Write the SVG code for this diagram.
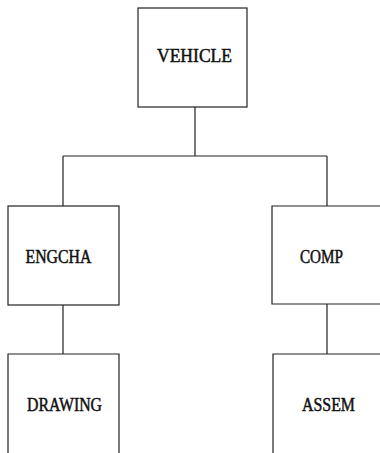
<svg xmlns="http://www.w3.org/2000/svg" width="380" height="453" viewBox="0 0 380 453">
<style>
.box{fill:none;stroke:#222;stroke-width:1.2}
.ln{fill:none;stroke:#222;stroke-width:1.2}
.t{font-family:"Liberation Serif",serif;font-size:19px;fill:#111;text-anchor:middle;stroke:#111;stroke-width:0.5}
</style>
<rect width="380" height="453" fill="#fff"/>
<g id="connectors">
<path class="ln" d="M195,107 V156 M63,156 H327 M63,156 V206 M327,156 V206 M63,305 V354 M327,304 V354"/>
</g>
<g id="vehicle">
<rect class="box" x="138" y="8" width="109" height="99"/>
<text class="t" x="194.5" y="62" textLength="75" lengthAdjust="spacingAndGlyphs">VEHICLE</text>
</g>
<g id="engcha">
<rect class="box" x="8" y="206" width="111" height="99"/>
<text class="t" x="58.5" y="263" textLength="66" lengthAdjust="spacingAndGlyphs">ENGCHA</text>
</g>
<g id="comp">
<path class="box" d="M385,206 H272 V304 H385"/>
<text class="t" x="321.5" y="263" textLength="43" lengthAdjust="spacingAndGlyphs">COMP</text>
</g>
<g id="drawing">
<path class="box" d="M8,455 V354 H119 V455"/>
<text class="t" x="64.5" y="411" textLength="75" lengthAdjust="spacingAndGlyphs">DRAWING</text>
</g>
<g id="assem">
<path class="box" d="M273,455 V354 H385"/>
<text class="t" x="328.5" y="411" textLength="53" lengthAdjust="spacingAndGlyphs">ASSEM</text>
</g>
</svg>
